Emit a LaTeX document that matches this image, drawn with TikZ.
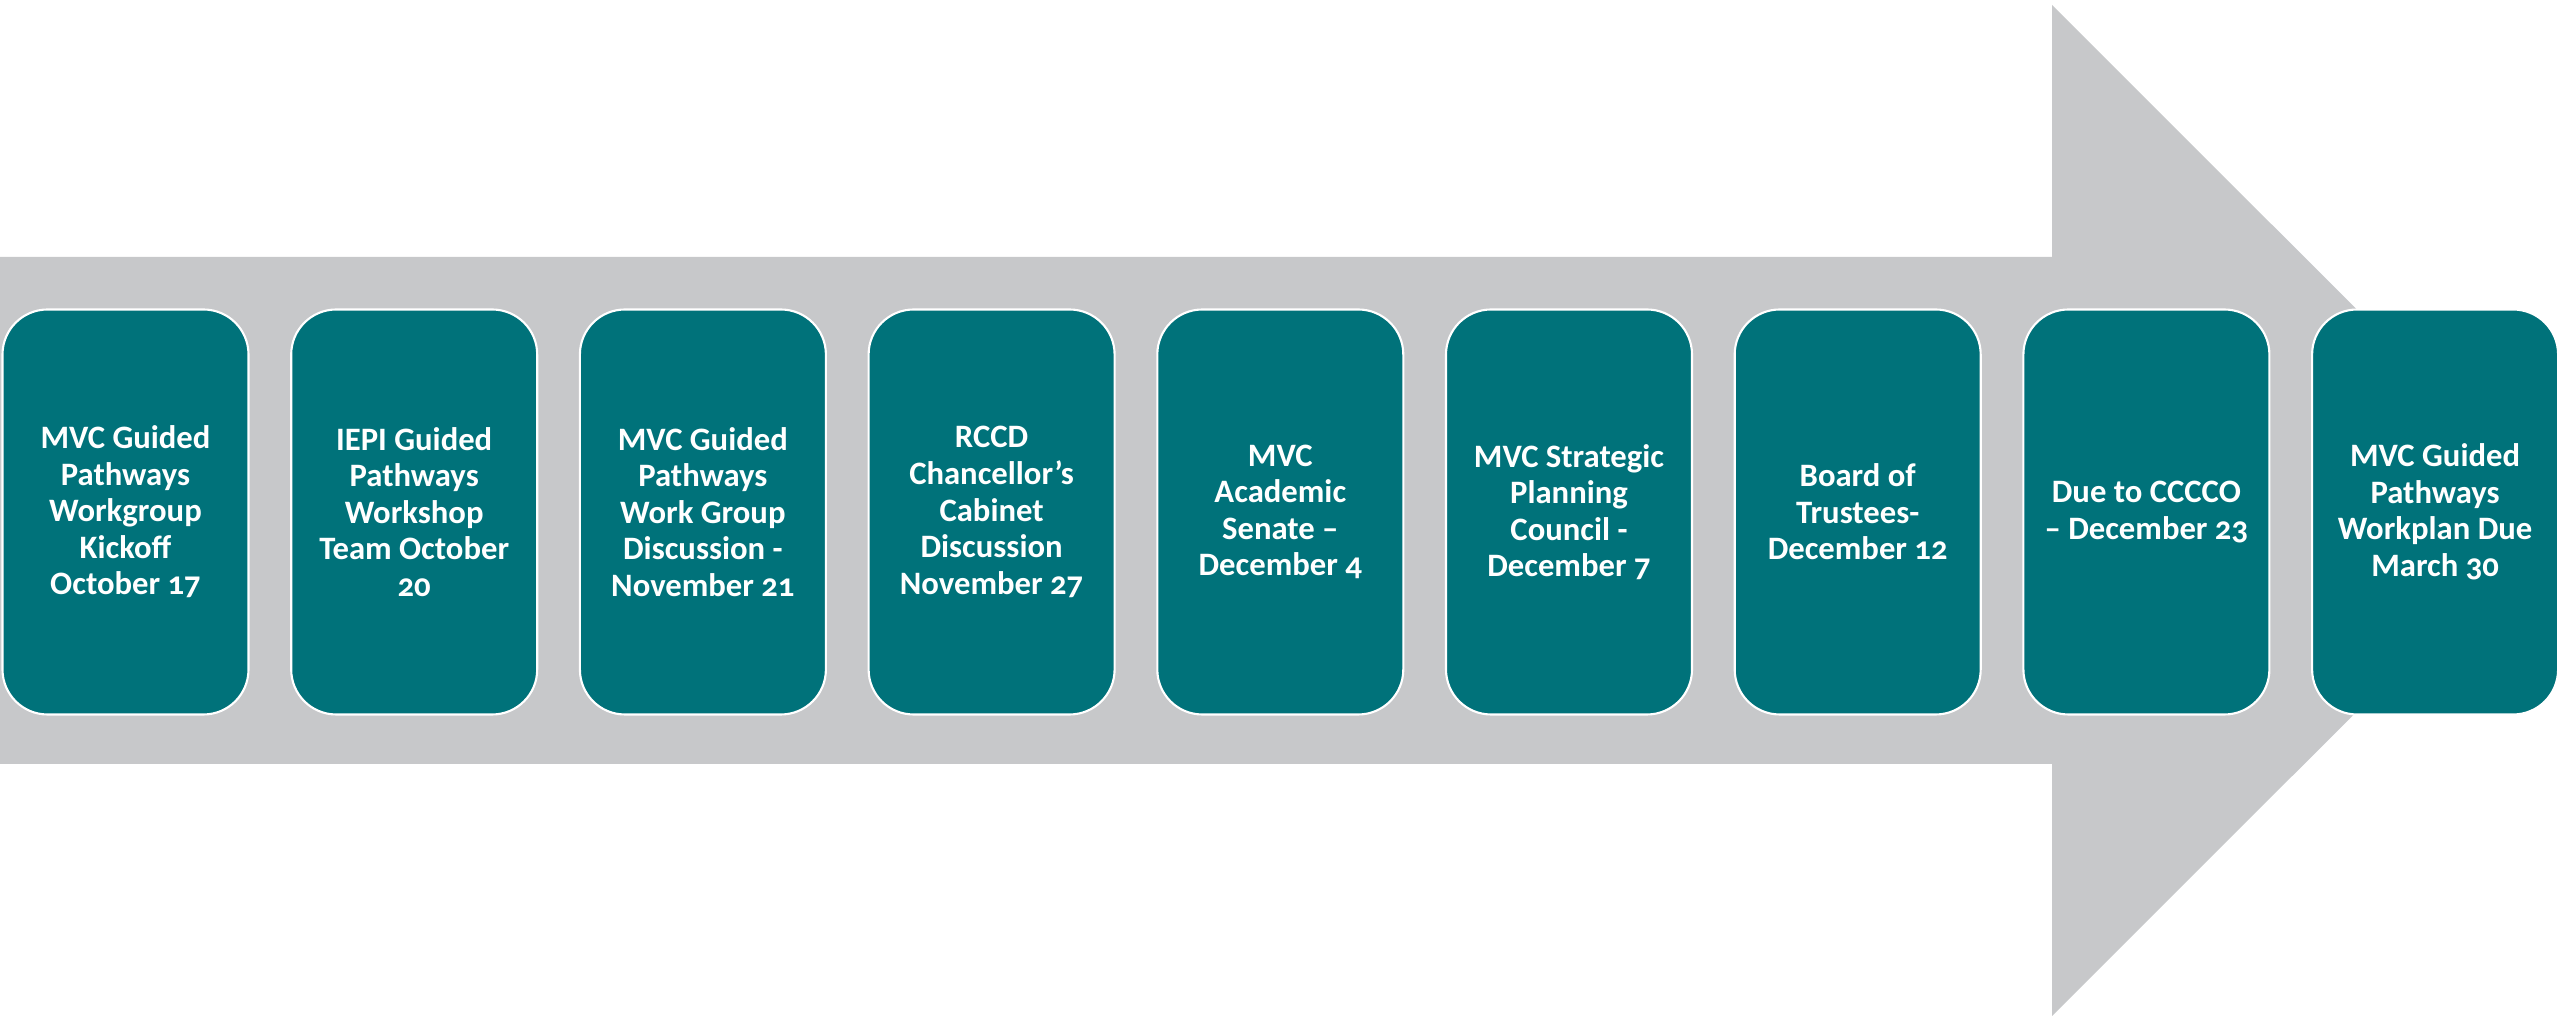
\documentclass[tikz,border=0pt]{standalone}
\usepackage{fontspec}
\setmainfont{Carlito}[Numbers=OldStyle]
\usepackage{tikz}
\definecolor{shaft}{RGB}{199, 200, 202}
\definecolor{teal}{RGB}{0, 114, 122}

\tikzset{
  step box/.style={fill=teal, draw=white, line width=0.6pt, rounded corners=0.45cm,
    minimum width=2.46cm, minimum height=4.05cm, align=center, text=white,
    font=\bfseries\fontsize{9.3}{10.4}\selectfont}
}

\begin{document}
\begin{tikzpicture}[x=0.1mm, y=0.1mm]
  \useasboundingbox (0, 0) rectangle (2560, 1021);

  % Big Arrow
  \fill[shaft] (0, 257) -- (2052, 257) -- (2052, 5) -- (2558, 510.5)
    -- (2052, 1016) -- (2052, 764) -- (0, 764) -- cycle;

  % Steps
  \foreach \txt [count=\i] in {
      {MVC Guided\\Pathways\\Workgroup\\Kickoff\\October 17},
      {IEPI Guided\\Pathways\\Workshop\\Team October\\20},
      {MVC Guided\\Pathways\\Work Group\\Discussion -\\November 21},
      {RCCD\\Chancellor’s\\Cabinet\\Discussion\\November 27},
      {MVC\\Academic\\Senate –\\December 4},
      {MVC Strategic\\Planning\\Council -\\December 7},
      {Board of\\Trustees-\\December 12},
      {Due to CCCCO\\– December 23},
      {MVC Guided\\Pathways\\Workplan Due\\March 30}} {
    \node[step box] (step\i) at ({125.5 + 288.7 * (\i - 1)}, 509) {\txt};
  }

\end{tikzpicture}
\end{document}
